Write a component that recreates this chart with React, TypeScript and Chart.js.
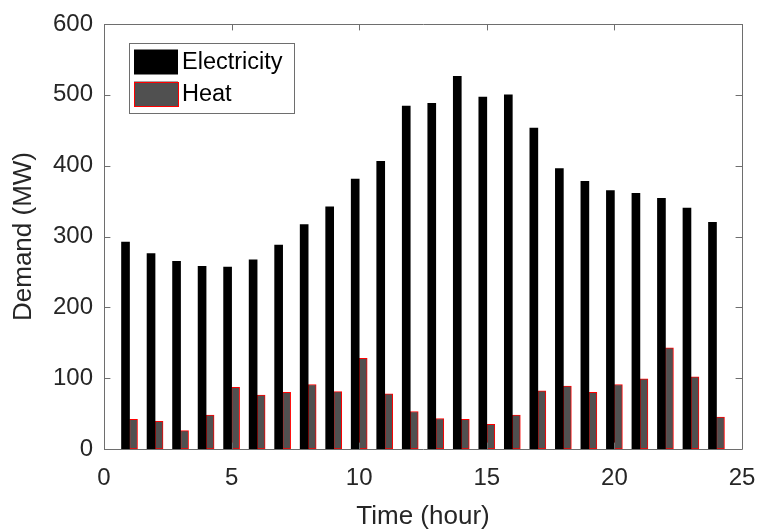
import { useEffect, useRef } from 'react';
import { Chart, registerables } from 'chart.js';

Chart.register(...registerables);

const hours = [1, 2, 3, 4, 5, 6, 7, 8, 9, 10, 11, 12, 13, 14, 15, 16, 17, 18, 19, 20, 21, 22, 23, 24];
const electricity = [292, 276, 265, 258, 257, 267, 288, 317, 342, 381, 406, 484, 488, 526, 497, 500, 453, 396, 378, 365, 361, 354, 340, 320];
const heat = [42, 39, 26, 48, 87, 76, 80, 91, 81, 128, 78, 53, 43, 42, 35, 48, 82, 89, 80, 91, 99, 143, 102, 45];
const xTicks = [0, 5, 10, 15, 20, 25];
const yTicks = [0, 100, 200, 300, 400, 500, 600];
const seriesNames = ['Electricity', 'Heat'];

const FONT = '"Liberation Sans", Arial, Helvetica, sans-serif';
const TEXT = '#262626';
const AXIS = '#6e6e6e';

const matlabAxes = {
  id: 'matlabAxes',
  afterDatasetsDraw(chart: any) {
    const { ctx, chartArea: a, scales } = chart;
    const x = scales.x;
    const y = scales.y;
    const tl = 6.4;
    ctx.save();
    ctx.strokeStyle = AXIS;
    ctx.lineWidth = 1;
    ctx.beginPath();
    ctx.rect(Math.round(a.left) + 0.5, Math.round(a.top) + 0.5, Math.round(a.right - a.left), Math.round(a.bottom - a.top));
    ctx.stroke();
    ctx.beginPath();
    for (const v of xTicks) {
      const px = Math.round(x.getPixelForValue(v)) + 0.5;
      ctx.moveTo(px, a.bottom);
      ctx.lineTo(px, a.bottom - tl);
      ctx.moveTo(px, a.top);
      ctx.lineTo(px, a.top + tl);
    }
    for (const v of yTicks) {
      const py = Math.round(y.getPixelForValue(v)) + 0.5;
      ctx.moveTo(a.left, py);
      ctx.lineTo(a.left + tl, py);
      ctx.moveTo(a.right, py);
      ctx.lineTo(a.right - tl, py);
    }
    ctx.stroke();

    // legend
    const lx = a.left + 25;
    const ly = a.top + 19;
    const lw = 165;
    const lh = 70;
    ctx.fillStyle = '#ffffff';
    ctx.fillRect(lx, ly, lw, lh);
    ctx.strokeStyle = AXIS;
    ctx.strokeRect(Math.round(lx) + 0.5, Math.round(ly) + 0.5, lw, lh);
    const ds = chart.data.datasets;
    ctx.font = `23.5px ${FONT}`;
    ctx.textBaseline = 'middle';
    ctx.textAlign = 'left';
    ds.forEach((d: any, i: number) => {
      const sx = lx + 5;
      const sy = ly + 6.5 + i * 32;
      ctx.fillStyle = d.backgroundColor;
      ctx.fillRect(sx, sy, 44, 25);
      if (d.borderWidth) {
        ctx.strokeStyle = d.borderColor;
        ctx.lineWidth = 1;
        ctx.strokeRect(Math.round(sx) + 0.5, Math.round(sy) + 0.5, 44, 24);
      }
      ctx.fillStyle = '#000000';
      ctx.fillText(d.label, sx + 48, sy + 13);
    });
    ctx.restore();
  },
};

export default function App() {
  const ref = useRef<HTMLCanvasElement | null>(null);
  useEffect(() => {
    if (!ref.current) return;
    const chart = new Chart(ref.current, {
      type: 'bar',
      data: {
        datasets: [
          {
            label: seriesNames[0],
            data: hours.map((h, i) => ({ x: h, y: electricity[i] })),
            backgroundColor: '#000000',
            borderWidth: 0,
            barThickness: 8,
          },
          {
            label: seriesNames[1],
            data: hours.map((h, i) => ({ x: h, y: heat[i] })),
            backgroundColor: '#505050',
            borderColor: '#ff0000',
            borderWidth: 1,
            borderSkipped: false,
            barThickness: 8,
          },
        ],
      },
      options: {
        responsive: false,
        animation: false,
        devicePixelRatio: 1,
        layout: { padding: { top: 24, right: 16, left: 0, bottom: 0 } },
        plugins: { legend: { display: false }, tooltip: { enabled: false } },
        scales: {
          x: {
            type: 'linear',
            min: 0,
            max: 25,
            offset: false,
            afterBuildTicks: (s: any) => { s.ticks = xTicks.map((v) => ({ value: v })); },
            afterFit: (s: any) => { s.height = 83; s.paddingLeft = 0; s.paddingRight = 0; },
            grid: { display: false, drawTicks: false, offset: false },
            border: { display: false },
            ticks: { color: TEXT, font: { size: 24, family: FONT }, padding: 15, maxRotation: 0 },
            title: { display: true, text: 'Time (hour)', color: TEXT, font: { size: 26, family: FONT }, padding: { top: 0, bottom: 0 } },
          },
          y: {
            min: 0,
            max: 600,
            afterBuildTicks: (s: any) => { s.ticks = yTicks.map((v) => ({ value: v })); },
            afterFit: (s: any) => { s.width = 104; s.paddingTop = 0; s.paddingBottom = 0; },
            grid: { display: false, drawTicks: false },
            border: { display: false },
            ticks: { color: TEXT, font: { size: 24, family: FONT }, padding: 11 },
            title: { display: true, text: 'Demand (MW)', color: TEXT, font: { size: 26, family: FONT }, padding: { top: 8, bottom: 0 } },
          },
        },
      },
      plugins: [matlabAxes],
    } as any);
    return () => chart.destroy();
  }, []);
  return (
    <div style={{ position: 'fixed', left: 0, top: 0, width: 758, height: 532, background: '#fff' }}>
      <canvas ref={ref} width={758} height={532} style={{ display: 'block' }} />
    </div>
  );
}
